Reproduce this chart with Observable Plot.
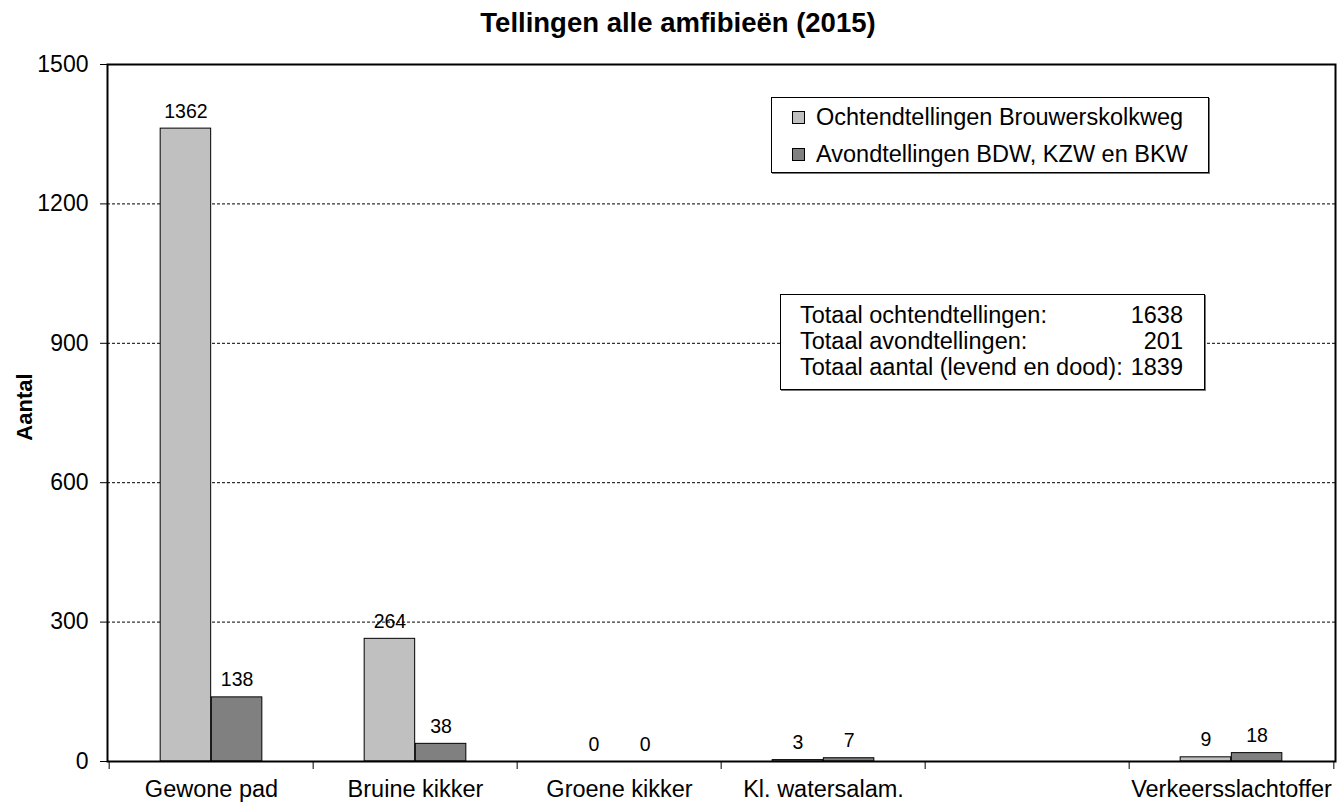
<!DOCTYPE html>
<html>
<head>
<meta charset="utf-8">
<script src="https://cdn.jsdelivr.net/npm/d3@7"></script>
<script src="https://cdn.jsdelivr.net/npm/@observablehq/plot@0.6"></script>
<style>
  body { margin: 0; background: #fff; font-family: "Liberation Sans", Arial, sans-serif; color: #000; }
  #wrap { position: relative; width: 1338px; height: 803px; overflow: hidden; }
  #title { height: 50px; box-sizing: border-box; padding-top: 9px; padding-left: 18px; text-align: center;
           font-weight: bold; font-size: 27.5px; line-height: 27.5px; white-space: nowrap; }
  #chart svg { display: block; }
  .box { position: absolute; box-sizing: border-box; background: #fff; border: 1px solid #000;
         box-shadow: 1px 1px 0 #777; }
  #legend { left: 771px; top: 97px; width: 438px; height: 76px; padding-left: 20px; font-size: 23.5px; }
  #legend .row { line-height: 39px; height: 37px; white-space: nowrap; }
  #legend .sw { display: inline-block; width: 11px; height: 11px; border: 1px solid #000; margin-right: 11px;
                vertical-align: 1px; }
  #totals { left: 780px; top: 294px; width: 425px; height: 96px; padding: 7px 21px 0 19px; font-size: 23.5px; }
  #totals .row { display: flex; justify-content: space-between; line-height: 26px; white-space: nowrap; }
</style>
</head>
<body>
<div id="wrap">
  <div id="title"></div>
  <div id="chart"></div>
  <div id="legend" class="box"></div>
  <div id="totals" class="box"></div>
</div>
<script>
// ---- data ----
const title = "Tellingen alle amfibieën (2015)";
const yLabel = "Aantal";
const categories = ["Gewone pad", "Bruine kikker", "Groene kikker", "Kl. watersalam.", "", "Verkeersslachtoffer"];
const seriesNames = ["Ochtendtellingen Brouwerskolkweg", "Avondtellingen BDW, KZW en BKW"];
const ochtendValues = [1362, 264, 0, 3, null, 9];
const avondValues = [138, 38, 0, 7, null, 18];
const seriesColors = ["#c0c0c0", "#808080"];
const yTicks = [0, 300, 600, 900, 1200, 1500];
const gridValues = [300, 600, 900, 1200];
const totalLabels = ["Totaal ochtendtellingen:", "Totaal avondtellingen:", "Totaal aantal (levend en dood):"];
const totalValues = [1638, 201, 1839];

// ---- layout ----
const W = 1338, H = 753, mL = 107, mR = 3, mT = 14, mB = 42;
const bw = (W - mL - mR) / categories.length;
const font = "'Liberation Sans', Arial, sans-serif";

const toRows = (vals, s) => categories.map((c, i) => ({cat: c, series: s, value: vals[i]})).filter(d => d.value != null);
const oRows = toRows(ochtendValues, 0);
const aRows = toRows(avondValues, 1);

document.getElementById("title").textContent = title;

const chart = Plot.plot({
  width: W, height: H,
  marginLeft: mL, marginRight: mR, marginTop: mT, marginBottom: mB,
  style: {fontFamily: font, fontSize: "23px", color: "#000", background: "#fff", overflow: "visible"},
  x: {type: "band", domain: categories, padding: 0},
  y: {domain: [0, 1500]},
  marks: [
    Plot.ruleY(gridValues, {stroke: "#000", strokeWidth: 1, strokeDasharray: "3,2"}),
    Plot.barY(oRows, {x: "cat", y: "value", fill: seriesColors[0], stroke: "#000", strokeWidth: 1,
                      insetLeft: bw / 4, insetRight: bw / 2}),
    Plot.barY(aRows, {x: "cat", y: "value", fill: seriesColors[1], stroke: "#000", strokeWidth: 1,
                      insetLeft: bw / 2, insetRight: bw / 4}),
    Plot.text(oRows, {x: "cat", y: "value", text: d => String(d.value), dx: -bw / 8, dy: -11,
                      lineAnchor: "bottom", fontSize: 19.5, fill: "#000"}),
    Plot.text(aRows, {x: "cat", y: "value", text: d => String(d.value), dx: bw / 8, dy: -11,
                      lineAnchor: "bottom", fontSize: 19.5, fill: "#000"}),
    Plot.frame({stroke: "#000", strokeWidth: 2}),
    Plot.axisY({ticks: yTicks, tickFormat: d => String(d), tickSize: 7, tickPadding: 12, fontSize: 23, label: null}),
    Plot.axisX({tickSize: 0, tickPadding: 19, fontSize: 23.5, label: null}),
    Plot.ruleX(categories, {x: d => d, dx: -bw / 2, insetTop: H - mT - mB, insetBottom: -8, stroke: "#000", strokeWidth: 1}),
    Plot.ruleX(categories.slice(-1), {x: d => d, dx: bw / 2, insetTop: H - mT - mB, insetBottom: -8, stroke: "#000", strokeWidth: 1}),
    Plot.text([yLabel], {frameAnchor: "left", text: d => d, rotate: -90, dx: -83, dy: -6, textAnchor: "middle",
                         fontWeight: "bold", fontSize: 22, fill: "#000"})
  ]
});
document.getElementById("chart").appendChild(chart);

// legend
const legend = document.getElementById("legend");
seriesNames.forEach((name, i) => {
  const row = document.createElement("div");
  row.className = "row";
  const sw = document.createElement("span");
  sw.className = "sw";
  sw.style.background = seriesColors[i];
  row.appendChild(sw);
  row.appendChild(document.createTextNode(name));
  legend.appendChild(row);
});

// totals box
const totals = document.getElementById("totals");
totalLabels.forEach((lab, i) => {
  const row = document.createElement("div");
  row.className = "row";
  const a = document.createElement("span"); a.textContent = lab;
  const b = document.createElement("span"); b.textContent = String(totalValues[i]);
  row.appendChild(a); row.appendChild(b);
  totals.appendChild(row);
});
</script>
</body>
</html>
